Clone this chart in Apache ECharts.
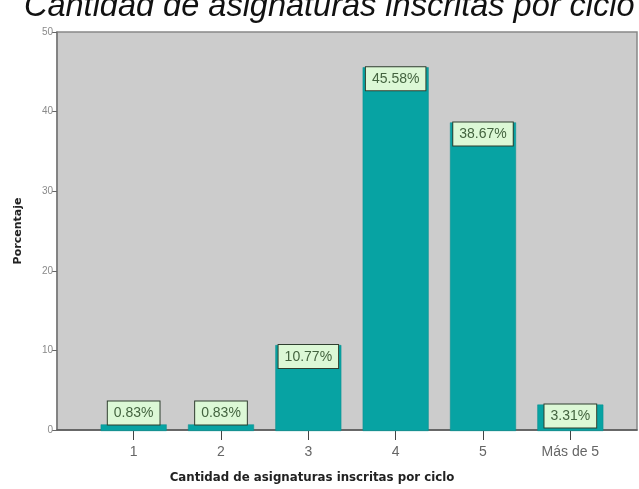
<!DOCTYPE html>
<html>
<head>
<meta charset="utf-8">
<script src="https://cdn.jsdelivr.net/npm/echarts@6/dist/echarts.min.js"></script>
<style>
  html, body { margin: 0; padding: 0; background: #ffffff; }
  #chart { width: 639px; height: 489px; }
</style>
</head>
<body>
<div id="chart"></div>
<script>
// Distribución de estudiantes según cantidad de asignaturas inscritas por ciclo
const categories = ['1', '2', '3', '4', '5', 'Más de 5'];
const percentages = [0.83, 0.83, 10.77, 45.58, 38.67, 3.31];
const yTicks = [0, 10, 20, 30, 40, 50];

const barColor = '#07a3a3';
const PLOT_TOP = 32;
const PLOT_BOTTOM = 58;
const SANS = 'Liberation Sans, Arial, sans-serif';
const BOLD_SANS = 'DejaVu Sans, Verdana, sans-serif';

const chart = echarts.init(document.getElementById('chart'), null, { renderer: 'canvas' });

const labelBox = {
  show: true,
  formatter: p => p.value.toFixed(2) + '%',
  fontFamily: SANS,
  fontSize: 14,
  color: '#43633f',
  backgroundColor: '#dcf8d6',
  borderColor: '#2f3f2f',
  borderWidth: 1,
  padding: [5, 6, 4, 6],
  position: 'insideTop',
  distance: 0
};

const seriesData = percentages.map(v => {
  const item = { value: v };
  if (v < 2) {
    item.label = { position: 'top', distance: 0 };
  }
  return item;
});

chart.setOption({
  animation: false,
  title: {
    text: 'Cantidad de asignaturas inscritas por ciclo',
    left: 19,
    top: -15,
    textStyle: {
      fontFamily: SANS,
      fontStyle: 'italic',
      fontWeight: 'normal',
      fontSize: 32.5,
      color: '#111111'
    }
  },
  grid: [
    {
      left: 57, right: 2, top: PLOT_TOP, bottom: PLOT_BOTTOM,
      show: true, backgroundColor: '#cccccc', borderColor: '#888888', borderWidth: 1.5
    },
    {
      left: 90, right: 25, top: PLOT_TOP, bottom: PLOT_BOTTOM
    }
  ],
  xAxis: [
    {
      gridIndex: 0, type: 'value', min: 0, max: 1,
      axisLine: { show: true, onZero: false, lineStyle: { color: '#555555', width: 1.5 } },
      axisTick: { show: false }, axisLabel: { show: false }, splitLine: { show: false },
      name: 'Cantidad de asignaturas inscritas por ciclo',
      nameLocation: 'middle', nameGap: 42,
      nameTextStyle: {
        fontFamily: BOLD_SANS,
        fontWeight: 'bold', fontSize: 11.8, color: '#222222', padding: [0, 70, 0, 0]
      }
    },
    {
      gridIndex: 1, type: 'category', data: categories,
      axisLine: { show: false },
      axisTick: { show: true, alignWithLabel: true, length: 9, lineStyle: { color: '#444444' } },
      axisLabel: {
        fontFamily: SANS,
        fontSize: 14, color: '#666666', margin: 14
      }
    }
  ],
  yAxis: [
    {
      gridIndex: 0, type: 'value', min: yTicks[0], max: yTicks[yTicks.length - 1], interval: 10,
      axisLine: { show: true, lineStyle: { color: '#7a7a7a', width: 1.5 } },
      axisTick: { show: true, length: 5, lineStyle: { color: '#666666' } },
      axisLabel: {
        fontFamily: SANS,
        fontSize: 10, color: '#8a8a8a', margin: 4
      },
      splitLine: { show: false },
      name: 'Porcentaje', nameLocation: 'middle', nameGap: 33, nameRotate: 90,
      nameTextStyle: {
        fontFamily: BOLD_SANS,
        fontWeight: 'bold', fontSize: 11, color: '#222222'
      }
    },
    {
      gridIndex: 1, type: 'value', min: yTicks[0], max: yTicks[yTicks.length - 1],
      show: false
    }
  ],
  series: [
    {
      type: 'bar',
      xAxisIndex: 1, yAxisIndex: 1,
      data: seriesData,
      barWidth: 66,
      itemStyle: { color: barColor, borderColor: '#0b8f8f', borderWidth: 0.5 },
      label: labelBox
    }
  ]
});
</script>
</body>
</html>
